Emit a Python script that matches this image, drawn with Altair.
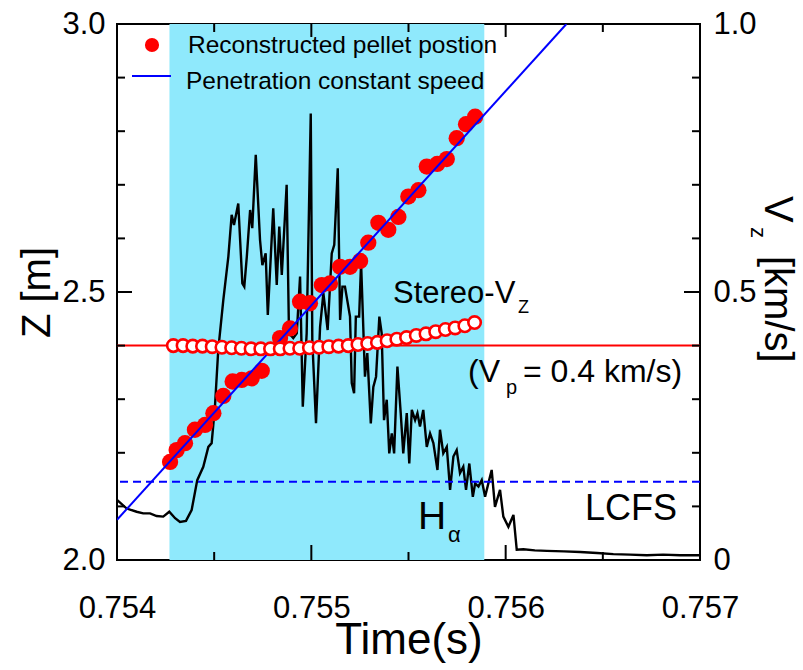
import altair as alt
import pandas as pd

# ---------------- data ----------------
# reconstructed pellet position Z [m]
t_pellet = [0.754273, 0.754307, 0.754350, 0.754401, 0.754453, 0.754496, 0.754547, 0.754595,
            0.754642, 0.754693, 0.754745, 0.754839, 0.754890, 0.754942, 0.754993, 0.755054,
            0.755096, 0.755148, 0.755199, 0.755251, 0.755293, 0.755345, 0.755396, 0.755448,
            0.755499, 0.755551, 0.755594, 0.755648, 0.755697, 0.755748, 0.755796, 0.755843]
z_pellet = [2.183, 2.205, 2.218, 2.243, 2.252, 2.274, 2.306, 2.333,
            2.336, 2.339, 2.353, 2.414, 2.432, 2.482, 2.479, 2.513,
            2.516, 2.547, 2.547, 2.558, 2.592, 2.629, 2.616, 2.640,
            2.678, 2.690, 2.734, 2.739, 2.748, 2.787, 2.813, 2.827]

# stereo V_z [km/s]
t_vz = [0.75429, 0.75434, 0.75439, 0.75444, 0.75449, 0.75454, 0.75459, 0.75464,
        0.75469, 0.75474, 0.75479, 0.75484, 0.75489, 0.75494, 0.75499, 0.75504,
        0.75509, 0.75514, 0.75519, 0.75524, 0.75529, 0.75534, 0.75539, 0.75544,
        0.75549, 0.75554, 0.75559, 0.75564, 0.75569, 0.75574, 0.75579, 0.75584]
vz = [0.400, 0.400, 0.399, 0.399, 0.398, 0.397, 0.396, 0.395,
      0.394, 0.394, 0.394, 0.394, 0.395, 0.395, 0.396, 0.397,
      0.398, 0.399, 0.400, 0.402, 0.404, 0.406, 0.409, 0.412,
      0.415, 0.419, 0.422, 0.426, 0.430, 0.433, 0.437, 0.443]

# H-alpha signal (a.u., drawn on the right-hand scale)
t_ha = [0.754000, 0.754050, 0.754101, 0.754135, 0.754170, 0.754204, 0.754238, 0.754269,
        0.754299, 0.754324, 0.754355, 0.754384, 0.754413, 0.754444, 0.754470, 0.754487,
        0.754504, 0.754521, 0.754547, 0.754573, 0.754590, 0.754602, 0.754624, 0.754645,
        0.754655, 0.754668, 0.754685, 0.754696, 0.754714, 0.754736, 0.754748, 0.754765,
        0.754776, 0.754804, 0.754822, 0.754835, 0.754848, 0.754873, 0.754885, 0.754907,
        0.754925, 0.754942, 0.754956, 0.754976, 0.754997, 0.755005, 0.755024, 0.755045,
        0.755062, 0.755084, 0.755105, 0.755118, 0.755136, 0.755148, 0.755160, 0.755173,
        0.755199, 0.755208, 0.755220, 0.755229, 0.755246, 0.755256, 0.755276, 0.755288,
        0.755306, 0.755319, 0.755333, 0.755350, 0.755362, 0.755374, 0.755388, 0.755401,
        0.755414, 0.755426, 0.755443, 0.755460, 0.755473, 0.755491, 0.755504, 0.755517,
        0.755534, 0.755546, 0.755559, 0.755576, 0.755594, 0.755611, 0.755628, 0.755649,
        0.755662, 0.755679, 0.755697, 0.755714, 0.755731, 0.755748, 0.755765, 0.755782,
        0.755796, 0.755813, 0.755831, 0.755843, 0.755860, 0.755877, 0.755894, 0.755911,
        0.755928, 0.755945, 0.755971, 0.755988, 0.756014, 0.756040, 0.756057, 0.756091,
        0.756150, 0.756212, 0.756300, 0.756383, 0.756470, 0.756554, 0.756640, 0.756726,
        0.756810, 0.756898, 0.757000]
ha = [0.112, 0.096, 0.090, 0.087, 0.087, 0.082, 0.081, 0.090,
      0.078, 0.071, 0.073, 0.093, 0.149, 0.174, 0.211, 0.218,
      0.286, 0.392, 0.485, 0.566, 0.644, 0.625, 0.665, 0.516,
      0.510, 0.566, 0.653, 0.619, 0.756, 0.597, 0.550, 0.572,
      0.457, 0.656, 0.513, 0.622, 0.532, 0.700, 0.423, 0.414,
      0.423, 0.529, 0.286, 0.423, 0.833, 0.410, 0.255, 0.435,
      0.498, 0.429, 0.572, 0.588, 0.731, 0.448, 0.510, 0.510,
      0.454, 0.330, 0.311, 0.454, 0.454, 0.554, 0.342, 0.386,
      0.255, 0.323, 0.342, 0.454, 0.423, 0.261, 0.299, 0.199,
      0.236, 0.199, 0.361, 0.274, 0.199, 0.274, 0.180, 0.280,
      0.261, 0.274, 0.249, 0.280, 0.211, 0.236, 0.218, 0.168,
      0.243, 0.199, 0.211, 0.131, 0.193, 0.205, 0.162, 0.174,
      0.131, 0.180, 0.118, 0.143, 0.137, 0.149, 0.118, 0.143,
      0.168, 0.099, 0.131, 0.081, 0.062, 0.084, 0.019, 0.020,
      0.018, 0.017, 0.016, 0.015, 0.013, 0.011, 0.010, 0.009,
      0.010, 0.009, 0.009]

# constant-speed penetration line (Z [m])
fit_t = [0.754000, 0.7563125]
fit_z = [2.075, 3.000]

band_start = [0.75427]
band_end = [0.75589]
v_p = [0.4]
z_lcfs = [2.146]

x_label_values = [0.754, 0.755, 0.756, 0.757]
x_minor_ticks = [0.7545, 0.7555, 0.7565]
x_major_ticks = [0.755, 0.756]
z_label_values = [2.0, 2.5, 3.0]
z_minor_ticks = [2.1, 2.2, 2.3, 2.4, 2.6, 2.7, 2.8, 2.9]
z_major_ticks = [2.5]
v_label_values = [0.0, 0.5, 1.0]
v_minor_ticks = [0.1, 0.2, 0.3, 0.4, 0.6, 0.7, 0.8, 0.9]
v_major_ticks = [0.5]

# ---------------- chart ----------------
W, H = 583, 536
FONT = "Liberation Sans"
RED = "#ff0000"
BLUE = "#0000ff"
CYAN = "#8fe9fc"

xs = alt.Scale(domain=[0.754, 0.757], nice=False, zero=False)
zs = alt.Scale(domain=[2.0, 3.0], nice=False, zero=False)
vs = alt.Scale(domain=[0.0, 1.0], nice=False, zero=False)

axX = alt.Axis(values=x_label_values, format=".3f", ticks=False, tickSize=0, domain=False,
               grid=False, labelFontSize=31, labelFont=FONT, labelColor="black",
               labelPadding=33, labelFlush=False, title="Time(s)", titleFont=FONT,
               titleFontSize=44, titleFontWeight="normal", titleColor="black", titlePadding=-5)
axZ = alt.Axis(values=z_label_values, format=".1f", ticks=False, tickSize=0, domain=False,
               grid=False, labelFontSize=31, labelFont=FONT, labelColor="black",
               labelPadding=12, labelFlush=False, title="Z [m]", titleFont=FONT,
               titleFontSize=40, titleFontWeight="normal", titleColor="black", titlePadding=4)
axV = alt.Axis(orient="right", values=v_label_values,
               labelExpr="datum.value == 0 ? '0' : format(datum.value, '.1f')",
               ticks=False, tickSize=0, domain=False, grid=False, labelFontSize=31,
               labelFont=FONT, labelColor="black", labelPadding=13, labelFlush=False,
               title=None)

df_p = pd.DataFrame({"t": t_pellet, "z": z_pellet})
df_v = pd.DataFrame({"t": t_vz, "v": vz})
df_h = pd.DataFrame({"t": t_ha, "h": ha})
df_f = pd.DataFrame({"t": fit_t, "z": fit_z})
df_b = pd.DataFrame({"t0": band_start, "t1": band_end})

band = alt.Chart(df_b).mark_rect(color=CYAN, opacity=1).encode(
    x=alt.X("t0:Q", scale=xs, axis=axX), x2="t1:Q")

trace = alt.Chart(df_h).mark_line(color="black", strokeWidth=2.4, clip=True).encode(
    x=alt.X("t:Q", scale=xs, axis=axX),
    y=alt.Y("h:Q", scale=vs, axis=axV))

dots = alt.Chart(df_p).mark_circle(color=RED, size=265, opacity=1).encode(
    x=alt.X("t:Q", scale=xs, axis=axX),
    y=alt.Y("z:Q", scale=zs, axis=axZ))

fit = alt.Chart(df_f).mark_line(color=BLUE, strokeWidth=2, clip=True).encode(
    x=alt.X("t:Q", scale=xs, axis=axX),
    y=alt.Y("z:Q", scale=zs, axis=None))

lcfs = alt.Chart(pd.DataFrame({"z": z_lcfs})).mark_rule(
    color=BLUE, strokeWidth=2, strokeDash=[8, 5]).encode(
    y=alt.Y("z:Q", scale=zs, axis=None))

vp_rule = alt.Chart(pd.DataFrame({"v": v_p})).mark_rule(color=RED, strokeWidth=2).encode(
    y=alt.Y("v:Q", scale=vs, axis=None))

circles = alt.Chart(df_v).mark_point(shape="circle", filled=True, fill="white", stroke=RED,
                                     strokeWidth=2.6, size=155, opacity=1).encode(
    x=alt.X("t:Q", scale=xs, axis=axX),
    y=alt.Y("v:Q", scale=vs, axis=None))


# inward ticks on all four sides
def xticks(vals, y0, y1):
    return alt.Chart(pd.DataFrame({"t": vals})).mark_rule(color="black", strokeWidth=2).encode(
        x=alt.X("t:Q", scale=xs, axis=axX), y=alt.value(y0), y2=alt.value(y1))


def yticks(vals, scale, x0, x1):
    return alt.Chart(pd.DataFrame({"y": vals})).mark_rule(color="black", strokeWidth=2).encode(
        y=alt.Y("y:Q", scale=scale, axis=None), x=alt.value(x0), x2=alt.value(x1))


tick_layers = [
    xticks(x_minor_ticks, H, H - 8), xticks(x_major_ticks, H, H - 15),
    xticks(x_minor_ticks, 0, 8), xticks(x_major_ticks, 0, 13),
    yticks(z_minor_ticks, zs, 0, 8), yticks(z_major_ticks, zs, 0, 15),
    yticks(v_minor_ticks, vs, W, W - 8), yticks(v_major_ticks, vs, W, W - 16),
]

one = pd.DataFrame({"a": [0]})


def label(txt, x, y, size, angle=0, align="left", baseline="alphabetic"):
    return alt.Chart(one).mark_text(text=txt, font=FONT, fontSize=size, color="black",
                                    align=align, baseline=baseline, angle=angle).encode(
        x=alt.value(x), y=alt.value(y))


# legend
leg_dot = alt.Chart(one).mark_circle(color=RED, size=200, opacity=1).encode(
    x=alt.value(35), y=alt.value(21))
leg_line = alt.Chart(one).mark_rule(color=BLUE, strokeWidth=2).encode(
    x=alt.value(15), x2=alt.value(54), y=alt.value(52))
leg1 = label("Reconstructed pellet postion", 71, 29, 24.5)
leg2 = label("Penetration constant speed", 69, 65, 24.5)

# annotations
stereo = label("Stereo-V", 276, 279, 31)
stereo_sub = label("Z", 401, 289, 18)
vp1 = label("(V", 351, 358, 32)
vp_sub = label("p", 389, 370, 20)
vp2 = label("= 0.4 km/s)", 406, 358, 32)
h_a = label("H", 301, 505, 39)
h_sub = label("α", 331, 518, 22)
lcfs_txt = label("LCFS", 468, 496, 36)

# right axis title (rotated)
vt1 = label("V", 648, 172, 40, angle=90)
vt2 = label("z", 634, 203, 22, angle=90)
vt3 = label("[km/s]", 648, 232, 40, angle=90)

chart = alt.layer(
    band, trace, dots, fit, lcfs, vp_rule, circles,
    *tick_layers,
    leg_dot, leg_line, leg1, leg2,
    stereo, stereo_sub, vp1, vp_sub, vp2, h_a, h_sub, lcfs_txt,
    vt1, vt2, vt3,
).resolve_scale(y="independent").properties(
    width=W, height=H,
    padding={"left": 117, "top": 24, "right": 103, "bottom": 110},
    autosize=alt.AutoSizeParams(type="none"),
    background="white",
).configure_view(stroke="black", strokeWidth=2)

chart.save("out.html", embed_options={"renderer": "svg", "actions": False})
